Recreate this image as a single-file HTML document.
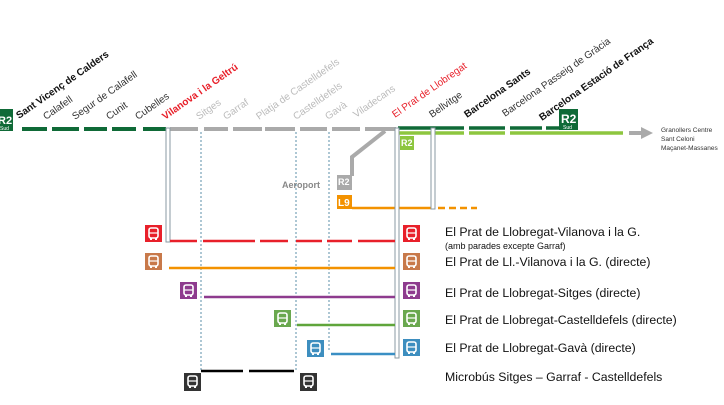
<!DOCTYPE html>
<html><head><meta charset="utf-8"><style>
html,body{margin:0;padding:0;background:#fff;}
svg{display:block;font-family:"Liberation Sans",Arial,sans-serif;}
</style></head><body>
<svg width="724" height="405" viewBox="0 0 724 405" xmlns="http://www.w3.org/2000/svg">
<defs>
<g id="bus">
<rect x="4" y="3" width="9" height="10" rx="2" fill="none" stroke="#fff" stroke-width="1.6"/>
<line x1="4.5" y1="8" x2="12.5" y2="8" stroke="#fff" stroke-width="1.2"/>
<rect x="5" y="13" width="2" height="2" fill="#fff"/><rect x="10" y="13" width="2" height="2" fill="#fff"/>
</g>
</defs>
<!-- station labels -->
<g font-size="10">
<text transform="translate(19,119) rotate(-35)" font-weight="bold" fill="#111">Sant Vicenç de Calders</text>
<text transform="translate(46,120) rotate(-35)" fill="#333">Calafell</text>
<text transform="translate(75,120) rotate(-35)" fill="#333">Segur de Calafell</text>
<text transform="translate(109,120) rotate(-35)" fill="#333">Cunit</text>
<text transform="translate(138,120) rotate(-35)" fill="#333">Cubelles</text>
<text transform="translate(165,120) rotate(-35)" font-weight="bold" fill="#e8202a">Vilanova i la Geltrú</text>
<text transform="translate(199,120) rotate(-35)" fill="#bbb">Sitges</text>
<text transform="translate(226,120) rotate(-35)" fill="#bbb">Garraf</text>
<text transform="translate(259,120) rotate(-35)" fill="#bbb">Platja de Castelldefels</text>
<text transform="translate(296,120) rotate(-35)" fill="#bbb">Castelldefels</text>
<text transform="translate(328,120) rotate(-35)" fill="#bbb">Gavà</text>
<text transform="translate(356,118) rotate(-35)" fill="#bbb">Viladecans</text>
<text transform="translate(395,118) rotate(-35)" fill="#e8202a">El Prat de Llobregat</text>
<text transform="translate(432,118) rotate(-35)" fill="#333">Bellvitge</text>
<text transform="translate(467,118) rotate(-35)" font-weight="bold" fill="#111">Barcelona Sants</text>
<text transform="translate(505,117) rotate(-35)" fill="#333">Barcelona Passeig de Gràcia</text>
<text transform="translate(542,121) rotate(-35)" font-weight="bold" fill="#111">Barcelona Estació de França</text>
</g>
<!-- R2 Sud left badge -->
<rect x="0" y="109" width="13" height="22" fill="#0f6a37"/>
<text x="-2" y="124" font-size="11" font-weight="bold" fill="#fff">R2</text>
<text x="0" y="130" font-size="5" fill="#fff">Sud</text>
<!-- green dashed -->
<g stroke="#0f6a37" stroke-width="4">
<line x1="22" y1="129" x2="47" y2="129"/><line x1="52" y1="129" x2="79" y2="129"/>
<line x1="84" y1="129" x2="107" y2="129"/><line x1="112" y1="129" x2="136" y2="129"/>
<line x1="143" y1="129" x2="166" y2="129"/>
</g>
<!-- gray dashed -->
<g stroke="#aaa" stroke-width="4">
<line x1="170" y1="129" x2="198" y2="129"/><line x1="204" y1="129" x2="228" y2="129"/>
<line x1="233" y1="129" x2="262" y2="129"/><line x1="265" y1="129" x2="295" y2="129"/>
<line x1="300" y1="129" x2="327" y2="129"/><line x1="332" y1="129" x2="360" y2="129"/>
<line x1="365" y1="129" x2="396" y2="129"/>
<polyline points="385,131 352,157 352,176" fill="none"/>
</g>
<!-- green right -->
<g stroke="#0f6a37" stroke-width="3.5">
<line x1="398" y1="128" x2="464" y2="128"/><line x1="469" y1="128" x2="505" y2="128"/>
<line x1="510" y1="128" x2="542" y2="128"/><line x1="546" y1="128" x2="578" y2="128"/>
</g>
<g stroke="#8dc63f" stroke-width="3.5">
<line x1="398" y1="133" x2="464" y2="133"/><line x1="469" y1="133" x2="505" y2="133"/>
<line x1="510" y1="133" x2="623" y2="133"/>
</g>
<line x1="629" y1="133" x2="642" y2="133" stroke="#aaa" stroke-width="4"/>
<polygon points="641,127 653,133 641,139" fill="#aaa"/>
<g font-size="6.5" fill="#333"><text x="661" y="132">Granollers Centre</text><text x="661" y="141">Sant Celoni</text><text x="661" y="150">Maçanet-Massanes</text></g>
<rect x="559" y="109" width="19" height="21" fill="#0f6a37"/>
<text x="561" y="123" font-size="12" font-weight="bold" fill="#fff">R2</text>
<text x="563" y="129" font-size="5" fill="#fff">Sud</text>
<rect x="400" y="136" width="14" height="14" fill="#8dc63f"/>
<text x="401" y="146" font-size="9" font-weight="bold" fill="#fff">R2</text>
<!-- aeroport -->
<text x="282" y="188" font-size="9" font-weight="bold" fill="#888">Aeroport</text>
<rect x="337" y="175" width="15" height="15" fill="#aaa"/>
<text x="338" y="185" font-size="9" font-weight="bold" fill="#fff">R2</text>
<rect x="337" y="195" width="15" height="14" fill="#f39200"/>
<text x="338" y="206" font-size="10" font-weight="bold" fill="#fff">L9</text>
<line x1="352" y1="208" x2="433" y2="208" stroke="#f39200" stroke-width="2.5"/>
<line x1="438" y1="208" x2="477" y2="208" stroke="#f39200" stroke-width="2.5" stroke-dasharray="7,4"/>
<!-- dotted verticals -->
<g stroke="#5b8fa8" stroke-width="1" stroke-dasharray="2,2">
<line x1="201" y1="132" x2="201" y2="372"/><line x1="296" y1="132" x2="296" y2="372"/>
<line x1="329" y1="132" x2="329" y2="350"/>
</g>
<!-- tubes -->
<rect x="166" y="128" width="4" height="114" fill="#fff" stroke="#8a9aa3" stroke-width="1"/>
<rect x="395" y="128" width="4" height="230" fill="#fff" stroke="#8a9aa3" stroke-width="1"/>
<rect x="431" y="128" width="4" height="81" fill="#fff" stroke="#8a9aa3" stroke-width="1"/>
<!-- bus lines -->
<g stroke="#e8202a" stroke-width="2.5">
<line x1="170" y1="241" x2="197" y2="241"/><line x1="203" y1="241" x2="255" y2="241"/>
<line x1="260" y1="241" x2="288" y2="241"/><line x1="296" y1="241" x2="322" y2="241"/>
<line x1="327" y1="241" x2="352" y2="241"/><line x1="358" y1="241" x2="395" y2="241"/>
</g>
<line x1="169" y1="268" x2="395" y2="268" stroke="#f39200" stroke-width="2.5"/>
<line x1="204" y1="297" x2="395" y2="297" stroke="#8e3b8e" stroke-width="2.5"/>
<line x1="297" y1="325" x2="395" y2="325" stroke="#5fa53b" stroke-width="2.5"/>
<line x1="331" y1="354" x2="395" y2="354" stroke="#3a8fc4" stroke-width="2.5"/>
<line x1="201" y1="371" x2="243" y2="371" stroke="#000" stroke-width="2.5"/>
<line x1="249" y1="371" x2="294" y2="371" stroke="#000" stroke-width="2.5"/>
<!-- bus icons -->
<g transform="translate(145,225)"><rect width="17" height="17" fill="#e8202a"/><use href="#bus"/></g>
<g transform="translate(403,225)"><rect width="17" height="17" fill="#e8202a"/><use href="#bus"/></g>
<g transform="translate(145,253)"><rect width="17" height="17" fill="#c8794a"/><use href="#bus"/></g>
<g transform="translate(403,253)"><rect width="17" height="17" fill="#c8794a"/><use href="#bus"/></g>
<g transform="translate(180,282)"><rect width="17" height="17" fill="#8e3b8e"/><use href="#bus"/></g>
<g transform="translate(403,282)"><rect width="17" height="17" fill="#8e3b8e"/><use href="#bus"/></g>
<g transform="translate(274,310)"><rect width="17" height="17" fill="#6aa84f"/><use href="#bus"/></g>
<g transform="translate(403,310)"><rect width="17" height="17" fill="#6aa84f"/><use href="#bus"/></g>
<g transform="translate(307,340)"><rect width="17" height="17" fill="#3d8ebf"/><use href="#bus"/></g>
<g transform="translate(403,339)"><rect width="17" height="17" fill="#3d8ebf"/><use href="#bus"/></g>
<g transform="translate(184,373)"><rect width="17" height="18" fill="#333"/><use href="#bus"/></g>
<g transform="translate(300,373)"><rect width="17" height="18" fill="#333"/><use href="#bus"/></g>
<!-- legend -->
<g font-size="12.3" fill="#111">
<text x="445" y="236">El Prat de Llobregat-Vilanova i la G.</text>
<text x="445" y="249" font-size="9">(amb parades excepte Garraf)</text>
<text x="445" y="266">El Prat de Ll.-Vilanova i la G. (directe)</text>
<text x="445" y="297">El Prat de Llobregat-Sitges (directe)</text>
<text x="445" y="324">El Prat de Llobregat-Castelldefels (directe)</text>
<text x="445" y="352">El Prat de Llobregat-Gavà (directe)</text>
<text x="445" y="381">Microbús Sitges – Garraf - Castelldefels</text>
</g>
</svg>
</body></html>
